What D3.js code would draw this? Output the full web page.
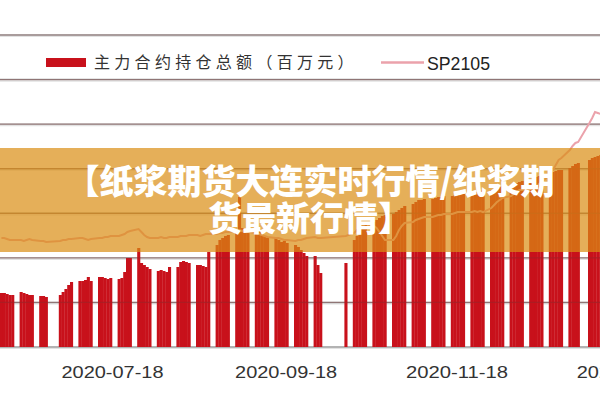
<!DOCTYPE html>
<html><head><meta charset="utf-8">
<script src="https://cdn.jsdelivr.net/npm/d3@7"></script>
<style>body{margin:0;background:#fff}svg{display:block}</style>
</head><body><svg id="c" width="600" height="400"></svg>
<script>
const startDate = "2020-06-08", endDate = "2021-01-08";
const holidays = ["2020-06-25","2020-06-26","2020-10-01","2020-10-02","2020-10-05","2020-10-06","2020-10-07","2020-10-08","2021-01-01"];
// 主力合约持仓总额（百万元）, one value per trading day
const openInterest = [
 2423,2423,2378,2333,2333, 2468,2423,2378,2333,2333, 2288,2288,2244,
 2333,2468,2602,2782,2917, 2961,2961,3006,3141,2961, 3141,3141,3096,3051,3096,
 3051,3096,3365,3993,3993, 4442,3769,3679,3590,3500, 3410,3455,3410,3365,3590,
 3590,3814,3859,3814,3769, 3679,3679,3634,3590,4263, 4577,4801,4891,4981,5025,
 5160,6731,5340,5250,5160, 5115,5160,5025,4981,4891, 4891,4801,4711,4756,4666,
 4577,4487,4352,4218,4083, 4083,3679,3320, 3769,
 4801,4981,5160,5340,5474, 5609,5698,5788,5878,5923, 5968,6057,6147,6237,6327,
 6416,6506,6596,6596,6641, 6641,6686,6731,6731,6775, 6775,6820,6820,6865,6865,
 6910,6955,6955,7000,7045, 7045,7089,7134,7179,7224, 7269,7314,7359,7404,7448,
 7493,7583,7628,7673,7718, 7762,7852,7897,7942,7942, 8032,8121,8211,8256,
 8391,8480,8525,8570,8615
];
// SP2105 price
const sp2105 = [
 4578,4578,4569,4560,4560, 4560,4551,4560,4569,4560, 4551,4551,4542,
 4551,4560,4560,4569,4569, 4578,4578,4569,4560,4569, 4578,4578,4587,4587,4596,
 4596,4605,4614,4632,4641, 4659,4632,4605,4587,4578, 4578,4587,4578,4578,4587,
 4587,4596,4596,4596,4605, 4605,4596,4605,4614,4614, 4614,4623,4623,4632,4632,
 4641,4650,4641,4632,4632, 4623,4614,4605,4596,4587, 4578,4578,4569,4560,4560,
 4551,4560,4560,4569,4578, 4587,4578,4578, 4596,
 4623,4650,4668,4686,4704, 4686,4668,4632,4596,4560, 4560,4596,4650,4686,4713,
 4722,4740,4749,4758,4767, 4767,4776,4785,4785,4794, 4794,4803,4811,4811,4811,
 4811,4820,4811,4820,4811, 4847,4874,4901,4919,4937, 4955,4973,4991,5009,5009,
 5018,5027,5045,5063,5081, 5153,5188,5233,5278,5296, 5368,5404,5431,5440,
 5610,5655,5709,5700,5691
];
const tickDates = ["2020-07-18","2020-09-18","2020-11-18","2021-01-18"];
const legendLabels = ["主力合约持仓总额（百万元）", "SP2105"];
const bannerLines = ["【纸浆期货大连实时行情/纸浆期", "货最新行情】"];

const parse = d3.timeParse("%Y-%m-%d"), fmt = d3.timeFormat("%Y-%m-%d");
const hol = new Set(holidays);
const dates = d3.timeDay.range(parse(startDate), d3.timeDay.offset(parse(endDate), 1))
  .filter(d => d.getDay() % 6 !== 0 && !hol.has(fmt(d)));
const data = dates.map((d, i) => ({d, v: openInterest[i], p: sp2105[i]}));

const svg = d3.select("#c");
const x = d3.scaleTime().domain([parse(startDate), parse(endDate)]).range([0, 599.2]);
const y = d3.scaleLinear().domain([0, 14000]).range([347, 35]);
const yp = d3.scaleLinear().domain([3600, 6400]).range([347, 35]);
const RED = "#c8111b";

const gridVals = d3.range(0, 14001, 2000);
const grid = svg.append("g");
grid.selectAll("line.s").data(gridVals).join("line")
  .attr("x1", 0).attr("x2", 600).attr("y1", d => y(d) + 1.5).attr("y2", d => y(d) + 1.5)
  .attr("stroke", "#e2e2e2").attr("stroke-width", 1.2);
grid.selectAll("line.m").data(gridVals).join("line")
  .attr("x1", 0).attr("x2", 600).attr("y1", d => y(d)).attr("y2", d => y(d))
  .attr("stroke", "#9a9a9a").attr("stroke-width", 1.4);

svg.append("g").selectAll("rect").data(data).join("rect")
  .attr("x", d => x(d.d))
  .attr("width", d => x(d3.timeDay.offset(d.d, 1)) - x(d.d) + 0.3)
  .attr("y", d => y(d.v)).attr("height", d => y(0) - y(d.v))
  .attr("fill", RED);

svg.append("g").selectAll("line").data(gridVals.slice(1)).join("line")
  .attr("x1", 0).attr("x2", 600).attr("y1", d => y(d)).attr("y2", d => y(d))
  .attr("stroke", "#7a3030").attr("stroke-opacity", 0.35).attr("stroke-width", 1.2);

const bw = x(d3.timeDay.offset(dates[0], 1)) - x(dates[0]);
svg.append("path").datum(data)
  .attr("d", d3.line().x(d => x(d.d) + bw / 2).y(d => yp(d.p)))
  .attr("fill", "none").attr("stroke", "#eba2ab").attr("stroke-width", 2);

// legend
const lg = svg.append("g");
lg.append("rect").attr("x", 46).attr("y", 58).attr("width", 40).attr("height", 9).attr("fill", RED);
lg.append("text").attr("x", 94).attr("y", 68).text(legendLabels[0])
  .attr("font-family", "Noto Sans CJK SC").attr("font-size", 16).attr("letter-spacing", 4.3).attr("fill", "#333");
lg.append("line").attr("x1", 381).attr("x2", 424).attr("y1", 62.5).attr("y2", 62.5)
  .attr("stroke", "#eba2ab").attr("stroke-width", 2.5);
lg.append("text").attr("x", 427).attr("y", 69.5).text(legendLabels[1])
  .attr("font-family", "Liberation Sans").attr("font-size", 19)
  .attr("textLength", 63).attr("lengthAdjust", "spacingAndGlyphs").attr("fill", "#222");

// x axis labels
const ax = svg.append("g").attr("transform", "translate(0,347)")
  .call(d3.axisBottom(x).tickValues(tickDates.map(parse)).tickSize(0).tickPadding(19).tickFormat(fmt));
ax.select(".domain").remove();
ax.selectAll("text").attr("font-family", "Liberation Sans").attr("font-size", 17)
  .attr("fill", "#333").attr("textLength", 102).attr("lengthAdjust", "spacingAndGlyphs");

// banner
svg.append("rect").attr("x", 0).attr("y", 148).attr("width", 600).attr("height", 104)
  .attr("fill", "rgb(218,141,19)").attr("fill-opacity", 0.7);
svg.append("g").selectAll("text").data(bannerLines).join("text")
  .attr("x", 310).attr("y", (d, i) => 194 + i * 37)
  .attr("text-anchor", "middle")
  .attr("font-family", "Noto Sans CJK SC").attr("font-weight", 900).attr("font-size", 34)
  .attr("fill", "#fff").text(d => d);
</script></body></html>
